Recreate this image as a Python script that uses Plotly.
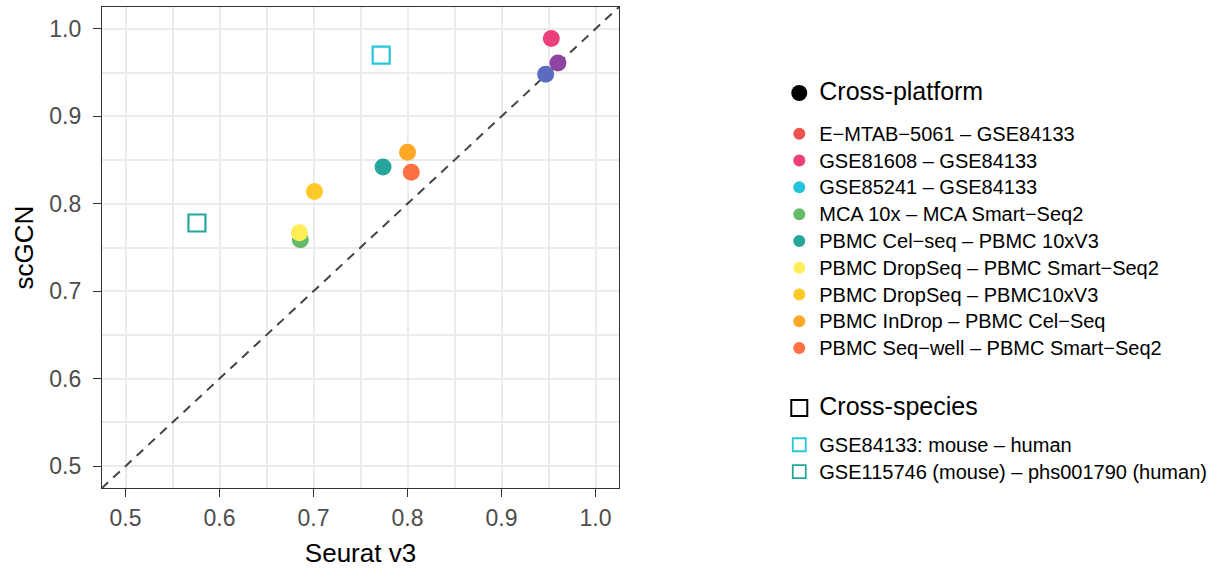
import plotly.graph_objects as go

# ---- data ----
cp_names = ["E\u2212MTAB\u22125061 \u2013 GSE84133", "GSE81608 \u2013 GSE84133", "GSE85241 \u2013 GSE84133",
            "MCA 10x \u2013 MCA Smart\u2212Seq2", "PBMC Cel\u2212seq \u2013 PBMC 10xV3",
            "PBMC DropSeq \u2013 PBMC Smart\u2212Seq2", "PBMC DropSeq \u2013 PBMC10xV3",
            "PBMC InDrop \u2013 PBMC Cel\u2212Seq", "PBMC Seq\u2212well \u2013 PBMC Smart\u2212Seq2"]
cp_colors = ["#EF5350", "#EC407A", "#26C6DA", "#66BB6A", "#26A69A", "#FFEE58", "#FFCA28", "#FFA726", "#FF7043"]
# None => not drawn as a visible point
cp_seurat = [None, 0.953, None, 0.686, 0.774, 0.685, 0.701, 0.800, 0.804]
cp_scgcn  = [None, 0.989, None, 0.759, 0.842, 0.767, 0.814, 0.859, 0.836]

extra_colors = ["#5C6BC0", "#8E44A0"]
extra_seurat = [0.947, 0.960]
extra_scgcn = [0.948, 0.961]

cs_names = ["GSE84133: mouse \u2013 human", "GSE115746 (mouse) \u2013 phs001790 (human)"]
cs_colors = ["#26C6DA", "#26A69A"]
cs_seurat = [0.772, 0.576]
cs_scgcn = [0.970, 0.778]

diag = [0.3, 1.2]
ticks = [0.5, 0.6, 0.7, 0.8, 0.9, 1.0]
tick_text = ["0.5", "0.6", "0.7", "0.8", "0.9", "1.0"]

FONT = "Liberation Sans, Arial, Helvetica, sans-serif"
ITEM = '<span style="font-size:20px">%s</span>'
HEAD = '<span style="font-size:25px">%s</span>'

fig = go.Figure()

fig.add_trace(go.Scatter(x=diag, y=diag, mode="lines", showlegend=False, hoverinfo="skip",
                         line=dict(color="#444444", width=2, dash="9px,7px")))

for c, xs, ys in zip(extra_colors, extra_seurat, extra_scgcn):
    fig.add_trace(go.Scatter(x=[xs], y=[ys], mode="markers", showlegend=False,
                             marker=dict(size=17, color=c, line=dict(width=0))))

# data marks
for n, c, xs, ys in zip(cp_names, cp_colors, cp_seurat, cp_scgcn):
    fig.add_trace(go.Scatter(x=[xs], y=[ys], mode="markers", name=n, showlegend=False,
                             marker=dict(size=17, color=c, line=dict(width=0))))
for n, c, xs, ys in zip(cs_names, cs_colors, cs_seurat, cs_scgcn):
    fig.add_trace(go.Scatter(x=[xs], y=[ys], mode="markers", name=n, showlegend=False,
                             marker=dict(size=17, color=c, symbol="square-open", line=dict(width=2.2, color=c))))

# legend keys
fig.add_trace(go.Scatter(x=[None], y=[None], mode="markers", legend="legend", legendgroup="h1",
                         name=HEAD % "Cross-platform",
                         marker=dict(size=17, color="black", symbol="circle")))
for n, c in zip(cp_names, cp_colors):
    fig.add_trace(go.Scatter(x=[None], y=[None], mode="markers", name=ITEM % n, legend="legend",
                             legendgroup="cp", marker=dict(size=12, color=c, line=dict(width=0))))

fig.add_trace(go.Scatter(x=[None], y=[None], mode="markers", legend="legend2", legendgroup="h2",
                         name=HEAD % "Cross-species",
                         marker=dict(size=16, color="black", symbol="square-open", line=dict(width=2, color="black"))))
for n, c in zip(cs_names, cs_colors):
    fig.add_trace(go.Scatter(x=[None], y=[None], mode="markers", name=ITEM % n, legend="legend2",
                             legendgroup="cs",
                             marker=dict(size=13, color=c, symbol="square-open", line=dict(width=1.8, color=c))))

axis_common = dict(range=[0.475, 1.025], tickvals=ticks, ticktext=tick_text,
                   showgrid=True, gridcolor="#EBEBEB", gridwidth=2,
                   minor=dict(dtick=0.05, tick0=0.45, showgrid=True, gridcolor="#EBEBEB", gridwidth=1.5),
                   ticks="outside", ticklen=8, tickwidth=1.3, tickcolor="#333333",
                   tickfont=dict(size=23, color="#4D4D4D", family=FONT),
                   showline=True, linecolor="#333333", linewidth=1.2, mirror=True,
                   zeroline=False)

fig.update_xaxes(**axis_common, ticklabelstandoff=1,
                 title=dict(text="Seurat v3", font=dict(size=26, color="black", family=FONT), standoff=14))
fig.update_yaxes(**axis_common, ticklabelstandoff=7,
                 title=dict(text="scGCN", font=dict(size=26, color="black", family=FONT), standoff=8))

fig.update_layout(
    width=1219, height=572,
    margin=dict(l=102, r=597, t=7, b=84),
    plot_bgcolor="white", paper_bgcolor="white",
    font=dict(family=FONT, color="black"),
    legend=dict(x=1.31, y=0.8595, xanchor="left", yanchor="top", traceorder="grouped",
                tracegroupgap=14, font=dict(size=18.3, color="black", family=FONT),
                bgcolor="rgba(0,0,0,0)", itemsizing="trace"),
    legend2=dict(x=1.31, y=0.2046, xanchor="left", yanchor="top", traceorder="grouped",
                 tracegroupgap=10, font=dict(size=18.3, color="black", family=FONT),
                 bgcolor="rgba(0,0,0,0)", itemsizing="trace"),
)

fig.write_html("out.html")
